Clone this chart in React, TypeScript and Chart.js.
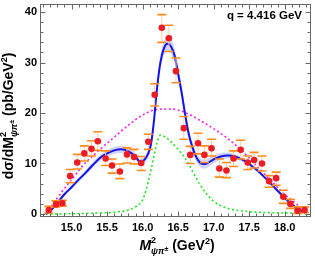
import React, { useEffect, useRef } from "react";
import { Chart, registerables } from "chart.js";
Chart.register(...registerables);

const FONT = '"Liberation Sans", Arial, Helvetica, sans-serif';

const xTickValues = [15.0, 15.5, 16.0, 16.5, 17.0, 17.5, 18.0];
const yTickValues = [0, 10, 20, 30, 40];
const annotationText = "q = 4.416 GeV";

// measured data points (bin centres, values, error bar ends)
const pointX = [14.68, 14.78, 14.87, 14.98, 15.08, 15.18, 15.28, 15.37, 15.48, 15.57, 15.68, 15.78, 15.88, 15.98, 16.08, 16.17, 16.27, 16.37, 16.47, 16.58, 16.67, 16.78, 16.87, 16.97, 17.08, 17.18, 17.28, 17.38, 17.48, 17.57, 17.68, 17.78, 17.88, 17.98, 18.08, 18.18, 18.28];
const pointY = [0.8, 1.9, 2.1, 7.5, 10.2, 12.0, 12.9, 14.4, 11.0, 9.6, 8.4, 11.8, 11.3, 10.1, 14.3, 23.6, 36.9, 34.8, 28.3, 17.0, 11.7, 14.0, 11.7, 13.0, 9.0, 8.6, 11.0, 12.7, 10.2, 10.7, 10.0, 6.5, 7.1, 3.4, 2.0, 0.65, 0.8];
const errHi = [1.5, 2.6, 2.7, 8.8, 11.8, 13.5, 14.5, 16.3, 12.5, 10.9, 9.9, 13.1, 12.8, 11.4, 15.8, 25.8, 39.5, 37.4, 30.9, 19.3, 13.4, 16.0, 13.5, 14.8, 10.9, 10.2, 12.5, 14.6, 11.5, 12.2, 11.5, 7.6, 8.3, 4.7, 2.9, 1.4, 1.4];
const errLo = [0.2, 1.4, 1.6, 6.2, 8.9, 10.5, 11.5, 12.6, 9.6, 8.1, 7.0, 10.1, 9.9, 8.6, 12.8, 21.4, 34.0, 32.2, 26.0, 14.8, 10.0, 11.9, 10.2, 11.5, 7.3, 7.2, 9.4, 10.9, 8.8, 9.1, 8.5, 5.3, 5.7, 2.1, 1.1, 0.1, 0.25];

// total fit (blue) with uncertainty band
const fitX = [14.64, 14.7, 14.8, 14.9, 15.0, 15.1, 15.2, 15.3, 15.4, 15.5, 15.6, 15.7, 15.8, 15.9, 15.97, 16.03, 16.08, 16.12, 16.16, 16.2, 16.25, 16.3, 16.35, 16.4, 16.45, 16.5, 16.55, 16.6, 16.65, 16.7, 16.75, 16.8, 16.85, 16.9, 17.0, 17.1, 17.2, 17.3, 17.4, 17.5, 17.6, 17.7, 17.8, 17.9, 18.0, 18.1, 18.2, 18.29];
const fitY = [0, 0.6, 2.2, 3.9, 5.3, 6.8, 8.2, 9.7, 11.1, 12.0, 12.6, 12.8, 12.4, 11.4, 10.2, 10.8, 12.0, 14.0, 18.5, 24.5, 30.0, 32.8, 33.7, 33.2, 31.4, 27.8, 24.0, 19.6, 15.8, 13.3, 11.4, 10.3, 9.9, 10.0, 10.8, 11.4, 11.6, 11.4, 10.8, 9.9, 8.8, 7.5, 6.1, 4.6, 3.2, 1.9, 0.9, 0.3];
const fitErr = [0.1, 0.2, 0.3, 0.35, 0.4, 0.45, 0.5, 0.55, 0.6, 0.65, 0.7, 0.7, 0.7, 0.7, 0.7, 0.75, 0.8, 0.9, 1.0, 1.2, 1.4, 1.5, 1.5, 1.5, 1.4, 1.3, 1.2, 1.1, 1.0, 0.9, 0.9, 0.9, 0.9, 0.9, 0.8, 0.7, 0.6, 0.5, 0.45, 0.4, 0.35, 0.3, 0.3, 0.25, 0.2, 0.15, 0.1, 0.05];

// magenta dotted component
const magX = [14.64, 14.8, 15.0, 15.2, 15.4, 15.6, 15.8, 16.0, 16.2, 16.4, 16.6, 16.8, 17.0, 17.2, 17.4, 17.6, 17.8, 18.0, 18.2, 18.29];
const magY = [0, 3.2, 6.8, 10.2, 12.8, 15.2, 17.6, 19.6, 20.7, 20.8, 20.1, 18.6, 16.9, 14.9, 12.5, 9.6, 6.7, 3.9, 1.5, 0];

// green dotted component
const greenX = [14.64, 15.0, 15.4, 15.6, 15.8, 15.9, 16.0, 16.05, 16.1, 16.15, 16.2, 16.25, 16.3, 16.4, 16.5, 16.6, 16.7, 16.8, 16.9, 17.0, 17.2, 17.4, 17.7, 18.0, 18.29];
const greenY = [0, 0.05, 0.2, 0.35, 0.8, 1.4, 2.8, 4.8, 7.6, 10.8, 14.0, 15.6, 15.4, 14.3, 12.8, 11.0, 8.5, 6.0, 4.0, 2.5, 1.1, 0.6, 0.3, 0.2, 0.1];

type Seg = { t: string; size: number; italic?: boolean; dy?: number; noAdv?: boolean };

const xTitle: Seg[] = [
  { t: "M", size: 14, italic: true },
  { t: "2", size: 9, dy: -7, noAdv: true },
  { t: "ψπ", size: 9, italic: true, dy: 4 },
  { t: "±", size: 7, dy: 1 },
  { t: " (GeV", size: 14 },
  { t: "2", size: 9, dy: -6 },
  { t: ")", size: 14 },
];
const yTitle: Seg[] = [
  { t: "dσ/dM", size: 14 },
  { t: "2", size: 9, dy: -7, noAdv: true },
  { t: "ψπ", size: 9, italic: true, dy: 4 },
  { t: "±", size: 7, dy: 1 },
  { t: " (pb/GeV", size: 14 },
  { t: "2", size: 9, dy: -6 },
  { t: ")", size: 14 },
];

function setFont(ctx: CanvasRenderingContext2D, s: Seg) {
  ctx.font = `${s.italic ? "italic " : ""}bold ${s.size}px ${FONT}`;
}
function segWidth(ctx: CanvasRenderingContext2D, segs: Seg[]) {
  let w = 0;
  for (const s of segs) {
    setFont(ctx, s);
    if (!s.noAdv) w += ctx.measureText(s.t).width;
  }
  return w;
}
function drawSegs(ctx: CanvasRenderingContext2D, segs: Seg[], x: number, y: number) {
  let cx = x;
  ctx.textAlign = "left";
  ctx.textBaseline = "alphabetic";
  for (const s of segs) {
    setFont(ctx, s);
    ctx.fillText(s.t, cx, y + (s.dy || 0));
    if (!s.noAdv) cx += ctx.measureText(s.t).width;
  }
}

export default function App() {
  const ref = useRef<HTMLCanvasElement>(null);
  useEffect(() => {
    document.body.style.margin = "0";
    const canvas = ref.current!;
    const ctx = canvas.getContext("2d")!;

    const errorBarPlugin = {
      id: "errorBars",
      beforeDatasetDraw(chart: any, args: any) {
        if (args.index !== 0) return;
        const c = chart.ctx as CanvasRenderingContext2D;
        const xs = chart.scales.x;
        const ys = chart.scales.y;
        c.save();
        for (let i = 0; i < pointX.length; i++) {
          const px = xs.getPixelForValue(pointX[i]);
          const yh = ys.getPixelForValue(errHi[i]);
          const yl = ys.getPixelForValue(errLo[i]);
          c.strokeStyle = "#ffcf9f";
          c.lineWidth = 1;
          c.beginPath();
          c.moveTo(px, yh);
          c.lineTo(px, yl);
          c.stroke();
          c.strokeStyle = "#ff8c1a";
          c.lineWidth = 1.6;
          c.beginPath();
          c.moveTo(px - 4.5, yh);
          c.lineTo(px + 4.5, yh);
          c.moveTo(px - 4.5, yl);
          c.lineTo(px + 4.5, yl);
          c.stroke();
        }
        c.restore();
      },
    };

    const framePlugin = {
      id: "frame",
      afterDraw(chart: any) {
        const c = chart.ctx as CanvasRenderingContext2D;
        const { left, right, top, bottom } = chart.chartArea;
        const xs = chart.scales.x;
        const ys = chart.scales.y;
        c.save();
        c.strokeStyle = "#666";
        c.lineWidth = 1;
        const L = Math.round(left) - 0.5;
        const R = Math.round(right) - 0.5;
        const T = Math.round(top) + 0.5;
        const B = Math.round(bottom) - 0.5;
        c.strokeRect(L, T, R - L, B - T);
        c.beginPath();
        // x ticks (major every 0.5, minor every 0.1)
        for (let k = 146; k <= 183; k++) {
          const v = k / 10;
          const px = Math.round(xs.getPixelForValue(v)) + 0.5;
          if (px < L || px > R) continue;
          const major = k % 5 === 0;
          const len = major ? 5 : 3;
          c.moveTo(px, B);
          c.lineTo(px, B - len);
          c.moveTo(px, T);
          c.lineTo(px, T + len);
        }
        // y ticks (major every 10, minor every 2)
        for (let v = 0; v <= 40; v += 2) {
          const py = Math.round(ys.getPixelForValue(v)) + 0.5;
          const major = v % 10 === 0;
          const len = major ? 5 : 3;
          c.moveTo(L, py);
          c.lineTo(L + len, py);
          c.moveTo(R, py);
          c.lineTo(R - len, py);
        }
        c.stroke();

        // annotation
        c.fillStyle = "#000";
        c.font = `bold 11.5px ${FONT}`;
        c.textAlign = "right";
        c.textBaseline = "alphabetic";
        c.fillText(annotationText, 302, 19);

        // x title
        const wx = segWidth(c, xTitle);
        drawSegs(c, xTitle, 177 - wx / 2, 250);
        // y title
        const wy = segWidth(c, yTitle);
        c.translate(12.5, 116);
        c.rotate(-Math.PI / 2);
        drawSegs(c, yTitle, -wy / 2, 0);
        c.restore();
      },
    };

    const bandHi = fitX.map((x, i) => ({ x, y: fitY[i] + fitErr[i] }));
    const bandLo = fitX.map((x, i) => ({ x, y: fitY[i] - fitErr[i] }));

    const chart = new Chart(ctx, {
      type: "line",
      data: {
        datasets: [
          {
            label: "data",
            data: pointX.map((x, i) => ({ x, y: pointY[i] })),
            showLine: false,
            pointRadius: 3.3,
            pointBackgroundColor: "#ec1c24",
            pointBorderWidth: 0,
            order: 0,
          },
          {
            label: "fit",
            data: fitX.map((x, i) => ({ x, y: fitY[i] })),
            borderColor: "#1414e6",
            borderWidth: 2,
            pointRadius: 0,
            cubicInterpolationMode: "monotone",
            fill: false,
            order: 1,
          },
          {
            label: "green",
            data: greenX.map((x, i) => ({ x, y: greenY[i] })),
            borderColor: "#22e622",
            borderWidth: 1.6,
            borderDash: [2, 2.5],
            pointRadius: 0,
            cubicInterpolationMode: "monotone",
            fill: false,
            order: 2,
          },
          {
            label: "magenta",
            data: magX.map((x, i) => ({ x, y: magY[i] })),
            borderColor: "#f020f0",
            borderWidth: 1.6,
            borderDash: [2, 2.5],
            pointRadius: 0,
            cubicInterpolationMode: "monotone",
            fill: false,
            order: 3,
          },
          {
            label: "bandHi",
            data: bandHi,
            borderWidth: 0,
            borderColor: "rgba(0,0,0,0)",
            backgroundColor: "rgba(120,135,255,0.35)",
            pointRadius: 0,
            cubicInterpolationMode: "monotone",
            fill: 5,
            order: 4,
          },
          {
            label: "bandLo",
            data: bandLo,
            borderWidth: 0,
            borderColor: "rgba(0,0,0,0)",
            pointRadius: 0,
            cubicInterpolationMode: "monotone",
            fill: false,
            order: 5,
          },
        ],
      },
      options: {
        animation: false,
        responsive: false,
        devicePixelRatio: 1,
        layout: { padding: { left: 0, top: 1, right: 3.5, bottom: 0 } },
        plugins: { legend: { display: false }, tooltip: { enabled: false } },
        scales: {
          x: {
            type: "linear",
            min: 14.57,
            max: 18.37,
            grid: { display: false, drawTicks: false },
            border: { display: false },
            ticks: {
              autoSkip: false,
              maxRotation: 0,
              minRotation: 0,
              padding: 4,
              color: "#000",
              font: { family: FONT, size: 11, weight: "bold" },
              callback: (v: any) => Number(v).toFixed(1),
            },
            afterBuildTicks: (scale: any) => {
              scale.ticks = xTickValues.map((value) => ({ value }));
            },
            afterFit: (scale: any) => {
              scale.height = 42;
              scale.paddingLeft = 0;
              scale.paddingRight = 0;
            },
          },
          y: {
            type: "linear",
            min: -0.6,
            max: 41.6,
            grid: { display: false, drawTicks: false },
            border: { display: false },
            ticks: {
              autoSkip: false,
              padding: 4,
              color: "#000",
              font: { family: FONT, size: 11, weight: "bold" },
              callback: (v: any) => String(v),
            },
            afterBuildTicks: (scale: any) => {
              scale.ticks = yTickValues.map((value) => ({ value }));
            },
            afterFit: (scale: any) => {
              scale.width = 41;
              scale.paddingTop = 0;
              scale.paddingBottom = 0;
            },
          },
        },
      } as any,
      plugins: [errorBarPlugin, framePlugin],
    });
    return () => chart.destroy();
  }, []);
  return (
    <div style={{ position: "absolute", left: 0, top: 0, width: 315, height: 259 }}>
      <canvas ref={ref} width={315} height={259} style={{ display: "block", width: 315, height: 259 }} />
    </div>
  );
}
